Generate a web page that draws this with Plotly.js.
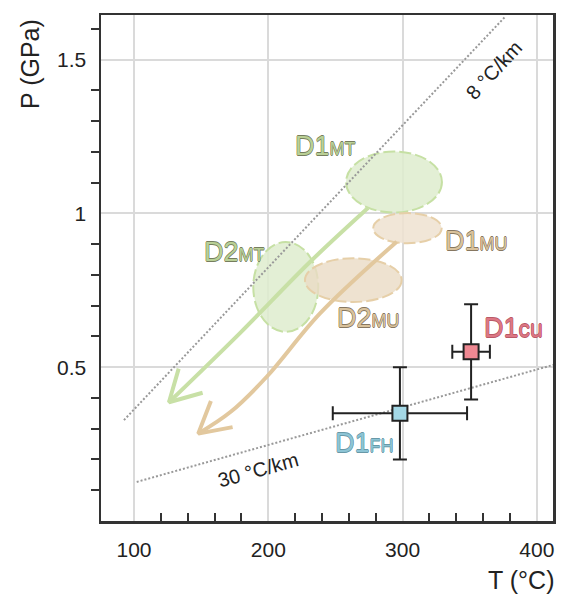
<!DOCTYPE html>
<html>
<head>
<meta charset="utf-8">
<script src="https://cdn.plot.ly/plotly-3.0.1.min.js"></script>
<style>html,body{margin:0;padding:0;background:#fff}</style>
</head>
<body>
<div id="chart" style="width:565px;height:594px"></div>
<script>
// Axis ticks
const tTickVals = [100, 200, 300, 400];
const tTickText = ['100', '200', '300', '400'];
const tMinorVals = [120, 140, 160, 180, 220, 240, 260, 280, 320, 340, 360, 380];
const pTickVals = [0.5, 1, 1.5];
const pTickText = ['0.5', '1', '1.5'];
const pMinorVals = [0.1, 0.2, 0.3, 0.4, 0.6, 0.7, 0.8, 0.9, 1.1, 1.2, 1.3, 1.4, 1.6];

// Geothermal gradients (T in °C, P in GPa)
const coldGradT = [92.5, 376.5];
const coldGradP = [0.328, 1.64];
const warmGradT = [102, 415];
const warmGradP = [0.127, 0.511];
const gradLabels = ['8 °C/km', '30 °C/km'];
const gradLabelT = [368, 192];
const gradLabelP = [1.467, 0.165];

// P-T fields of the deformation stages
const fieldNames = ['D1MT', 'D2MT', 'D1MU', 'D2MU'];
const fieldT = [293.6, 213.0, 303.6, 263.3];
const fieldP = [1.102, 0.761, 0.952, 0.783];
const fieldTHalf = [35.7, 24.2, 25.5, 36.0];
const fieldPHalf = [0.099, 0.146, 0.049, 0.071];

// Retrograde paths
const mtPathT = [274.2, 231.0, 178.9, 126.0];
const mtPathP = [1.0175, 0.842, 0.611, 0.386];
const muPathT = [295.6, 238.5, 198.8, 172.0, 147.8];
const muPathP = [0.908, 0.675, 0.469, 0.355, 0.284];

// Point estimates with uncertainties
const pointNames = ['D1CU', 'D1FH'];
const pointT = [351, 298];
const pointP = [0.55, 0.35];
const pointTErr = [14, 50];
const pointPErr = [0.155, 0.15];

// Stage labels
const labelText = ['D1', 'D2', 'D1', 'D2', 'D1', 'D1'];
const labelSub = ['MT', 'MT', 'MU', 'MU', 'cu', 'FH'];
const labelT = [218.6, 150.6, 330.1, 249.6, 358.9, 248.1];
const labelP = [1.219, 0.874, 0.91, 0.66, 0.627, 0.253];

const W = 565, H = 594;
const M = {l: 101, r: 12, t: 15, b: 73};
const tRange = [75.4, 412];
const pRange = [0, 1.645];
const kx = (W - M.l - M.r) / (tRange[1] - tRange[0]);
const ky = (H - M.t - M.b) / (pRange[1] - pRange[0]);

const GREEN = '#c8e0a6', TAN = '#e2c89e';
const FONT = 'Liberation Sans, Arial, sans-serif';

// open chevron at the end of a path, built in screen space
function chevron(ts, ps, len, half) {
  const n = ts.length;
  const tipT = ts[n - 1], tipP = ps[n - 1];
  const dx = (ts[n - 3] - tipT) * kx;
  const dy = -(ps[n - 3] - tipP) * ky;
  const a = Math.atan2(dy, dx);
  const arm = s => [tipT + len * Math.cos(a + s * half) / kx,
                    tipP - len * Math.sin(a + s * half) / ky];
  const a1 = arm(1), a2 = arm(-1);
  return {x: [a1[0], tipT, a2[0]], y: [a1[1], tipP, a2[1]]};
}

const traces = [];
traces.push({x: coldGradT, y: coldGradP, mode: 'lines', hoverinfo: 'skip',
  line: {color: '#999', width: 2, dash: '2px,2px'}});
traces.push({x: warmGradT, y: warmGradP, mode: 'lines', hoverinfo: 'skip',
  line: {color: '#999', width: 2, dash: '2px,2px'}});

[[mtPathT, mtPathP, GREEN], [muPathT, muPathP, TAN]].forEach(([ts, ps, c]) => {
  traces.push({x: ts, y: ps, mode: 'lines', hoverinfo: 'skip',
    line: {color: c, width: 4, shape: 'spline', smoothing: 1}});
  const h = chevron(ts, ps, 35, 29 * Math.PI / 180);
  traces.push({x: h.x, y: h.y, mode: 'lines', hoverinfo: 'skip',
    line: {color: c, width: 4}});
});

const pointColors = ['#ef8892', '#a4d8e6'];
pointNames.forEach((nm, i) => {
  traces.push({x: [pointT[i]], y: [pointP[i]], mode: 'markers', name: nm,
    marker: {symbol: 'square', size: 15, color: pointColors[i], line: {color: '#222', width: 2}},
    error_x: {type: 'data', array: [pointTErr[i]], color: '#222', thickness: 2, width: 7},
    error_y: {type: 'data', array: [pointPErr[i]], color: '#222', thickness: 2, width: 7}});
});

const fieldFill = ['rgba(222,236,206,0.85)', 'rgba(222,236,206,0.85)', 'rgba(238,226,208,0.85)', 'rgba(234,219,196,0.8)'];
const fieldLine = ['#c6e0a4', '#c6e0a4', '#e6cfa8', '#e6cfa8'];
const shapes = fieldNames.map((nm, i) => ({
  type: 'circle', xref: 'x', yref: 'y', layer: 'between',
  x0: fieldT[i] - fieldTHalf[i], x1: fieldT[i] + fieldTHalf[i],
  y0: fieldP[i] - fieldPHalf[i], y1: fieldP[i] + fieldPHalf[i],
  fillcolor: fieldFill[i], line: {color: fieldLine[i], width: 2, dash: '12px,4px'}
}));

function outline(c) {
  return `0.6px 0 0 ${c}, -0.6px 0 0 ${c}, 0 0.6px 0 ${c}, 0 -0.6px 0 ${c}`;
}
const labelFill = ['#b9d096', '#b9d096', '#d9c29c', '#d9c29c', '#dd7784', '#8cc4d5'];
const labelEdge = ['#767e5e', '#767e5e', '#877760', '#877760', '#b95a67', '#6898a7'];
const labelSubSize = [18, 18, 18, 18, 23, 18];

const annotations = labelText.map((t, i) => ({
  x: labelT[i], y: labelP[i], xref: 'x', yref: 'y', xanchor: 'left', yanchor: 'middle',
  showarrow: false,
  text: `${t}<span style="font-size:${labelSubSize[i]}px">${labelSub[i]}</span>`,
  font: {family: FONT, size: 27, color: labelFill[i], shadow: outline(labelEdge[i])}
}));

gradLabels.forEach((t, i) => annotations.push({
  x: gradLabelT[i], y: gradLabelP[i], xref: 'x', yref: 'y', showarrow: false,
  text: t, textangle: i === 0 ? -47 : -15.5,
  font: {family: FONT, size: 20, color: '#222'}
}));

annotations.push({xref: 'paper', yref: 'paper', x: (30 - M.l) / (W - M.l - M.r), y: (H - M.b - 64) / (H - M.t - M.b),
  text: 'P (GPa)', textangle: -90, showarrow: false, xanchor: 'center', yanchor: 'middle',
  font: {family: FONT, size: 25, color: '#222'}});
annotations.push({xref: 'paper', yref: 'paper', x: (521 - M.l) / (W - M.l - M.r), y: (H - M.b - 580) / (H - M.t - M.b),
  text: 'T (°C)', showarrow: false, xanchor: 'center', yanchor: 'middle',
  font: {family: FONT, size: 25, color: '#222'}});

const axisCommon = {
  showgrid: true, gridcolor: '#dadada', gridwidth: 2,
  showline: true, linecolor: '#333', linewidth: 2.5, mirror: true,
  zeroline: false, ticks: '', tickmode: 'array',
  tickfont: {family: FONT, size: 21, color: '#222'}
};

const layout = {
  width: W, height: H, margin: M, showlegend: false,
  paper_bgcolor: '#fff', plot_bgcolor: '#fff',
  xaxis: Object.assign({}, axisCommon, {
    range: tRange, tickvals: tTickVals, ticktext: tTickText, ticklabelstandoff: 8,
    minor: {tickmode: 'array', tickvals: tMinorVals, ticks: 'inside', ticklen: 8, tickwidth: 2, tickcolor: '#333', showgrid: false}
  }),
  yaxis: Object.assign({}, axisCommon, {
    range: pRange, tickvals: pTickVals, ticktext: pTickText, ticklabelstandoff: 8,
    minor: {tickmode: 'array', tickvals: pMinorVals, ticks: 'outside', ticklen: 8, tickwidth: 2, tickcolor: '#333', showgrid: false}
  }),
  shapes: shapes,
  annotations: annotations
};

Plotly.newPlot('chart', traces, layout, {staticPlot: true, displayModeBar: false});
</script>
</body>
</html>
